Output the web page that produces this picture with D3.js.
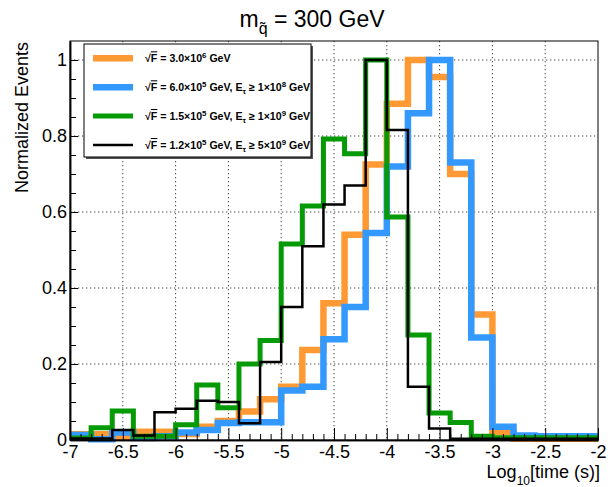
<!DOCTYPE html>
<html>
<head>
<meta charset="utf-8">
<script src="https://cdn.jsdelivr.net/npm/d3@7"></script>
<style>
  html, body { margin: 0; padding: 0; background: #fff; }
  svg { display: block; }
  text { font-family: "Liberation Sans", Arial, Helvetica, sans-serif; }
</style>
</head>
<body>
<svg id="chart" width="610" height="487"></svg>
<script>
// ---- data ----
const binEdges = [-7.0, -6.8, -6.6, -6.4, -6.2, -6.0, -5.8, -5.6, -5.4, -5.2, -5.0,
                  -4.8, -4.6, -4.4, -4.2, -4.0, -3.8, -3.6, -3.4, -3.2, -3.0,
                  -2.8, -2.6, -2.4, -2.2, -2.0];

const orangeValues = [0.015, 0.015, 0.008, 0.022, 0.022, 0.016, 0.035, 0.05, 0.075, 0.107,
                      0.14, 0.237, 0.36, 0.54, 0.725, 0.885, 1.0, 0.955, 0.70, 0.33,
                      0.02, 0.004, 0.003, 0.003, 0.003];
const blueValues   = [0.013, 0.002, 0.02, 0.005, 0.01, 0.02, 0.026, 0.045, 0.047, 0.047,
                      0.13, 0.14, 0.265, 0.35, 0.545, 0.72, 0.86, 1.0, 0.73, 0.27,
                      0.035, 0.012, 0.01, 0.01, 0.01];
const greenValues  = [0.005, 0.032, 0.076, 0.01, 0.01, 0.04, 0.145, 0.085, 0.2, 0.262,
                      0.516, 0.616, 0.792, 0.753, 1.0, 0.587, 0.276, 0.071, 0.046, 0.01,
                      0.006, 0.006, 0.006, 0.006, 0.006];
const blackValues  = [0.004, 0.004, 0.026, 0.012, 0.073, 0.082, 0.103, 0.1, 0.044, 0.205,
                      0.35, 0.51, 0.62, 0.67, 1.0, 0.816, 0.14, 0.03, 0.003, 0.003,
                      0.003, 0.003, 0.003, 0.003, 0.003];

const xMajorTicks = [-7, -6.5, -6, -5.5, -5, -4.5, -4, -3.5, -3, -2.5, -2];
const xTickLabels = ["-7", "-6.5", "-6", "-5.5", "-5", "-4.5", "-4", "-3.5", "-3", "-2.5", "-2"];
const yMajorTicks = [0, 0.2, 0.4, 0.6, 0.8, 1.0];
const yTickLabels = ["0", "0.2", "0.4", "0.6", "0.8", "1"];

const legendF    = ["3.0", "6.0", "1.5", "1.2"];
const legendFexp = ["6", "5", "5", "5"];
const legendEcoef = [null, "1", "1", "5"];
const legendEexp  = [null, "8", "9", "9"];

// ---- layout ----
const svg = d3.select("#chart");
const L = 70, R = 598, T = 41, B = 440;
const x = d3.scaleLinear().domain([-7, -2]).range([L, R]);
const y = d3.scaleLinear().domain([0, 1.05]).range([B, T]);

const series = [
  { values: orangeValues, color: "#ff9933", width: 6.5 },
  { values: blueValues,   color: "#3399ff", width: 6.5 },
  { values: greenValues,  color: "#079a07", width: 5 },
  { values: blackValues,  color: "#000000", width: 2.5 }
];

// grid
const grid = svg.append("g");
xMajorTicks.slice(1, -1).forEach(v => {
  grid.append("line").attr("x1", x(v)).attr("x2", x(v)).attr("y1", T).attr("y2", B)
    .attr("stroke", "#444").attr("stroke-width", 1).attr("stroke-dasharray", "1.3,2.7");
});
yMajorTicks.slice(1).forEach(v => {
  grid.append("line").attr("x1", L).attr("x2", R).attr("y1", y(v)).attr("y2", y(v))
    .attr("stroke", "#444").attr("stroke-width", 1).attr("stroke-dasharray", "1.3,2.7");
});

// clip
svg.append("clipPath").attr("id", "plotclip").append("rect")
  .attr("x", L).attr("y", T - 5).attr("width", R - L).attr("height", B - T + 9);

const line = d3.line().x(d => x(d[0])).y(d => y(d[1]));
const hg = svg.append("g").attr("clip-path", "url(#plotclip)");
series.forEach(s => {
  const pts = [[binEdges[0], 0]];
  s.values.forEach((v, i) => { pts.push([binEdges[i], v]); pts.push([binEdges[i + 1], v]); });
  pts.push([binEdges[binEdges.length - 1], 0]);
  hg.append("path").attr("d", line(pts)).attr("fill", "none")
    .attr("stroke", s.color).attr("stroke-width", s.width)
    .attr("stroke-linejoin", "miter").attr("stroke-linecap", "butt");
});

// frame
svg.append("rect").attr("x", L).attr("y", T).attr("width", R - L).attr("height", B - T)
  .attr("fill", "none").attr("stroke", "#000").attr("stroke-width", 1);

// axes
const xMinor = d3.range(0, 51).map(i => -7 + i * 0.1).filter(v => !xMajorTicks.some(m => Math.abs(m - v) < 1e-6));
const xAxisMinor = d3.axisBottom(x).tickValues(xMinor).tickFormat("").tickSizeInner(-6).tickSizeOuter(0);
const xAxis = d3.axisBottom(x).tickValues(xMajorTicks)
  .tickFormat((d, i) => xTickLabels[i]).tickSizeInner(-12).tickSizeOuter(0).tickPadding(5);
const gxm = svg.append("g").attr("transform", `translate(0,${B})`).call(xAxisMinor);
const gx = svg.append("g").attr("transform", `translate(0,${B})`).call(xAxis);
[gx, gxm].forEach(g => {
  g.select(".domain").attr("stroke", "#000").attr("stroke-width", 1.5);
  g.selectAll(".tick line").attr("stroke", "#000");
});
gx.selectAll("text").attr("font-size", 18).attr("fill", "#000")
  .attr("font-family", "'Liberation Sans', Arial, sans-serif");

const yMinor = d3.range(0, 21).map(i => i * 0.05).filter(v => !yMajorTicks.some(m => Math.abs(m - v) < 1e-6));
const yAxisMinor = d3.axisLeft(y).tickValues(yMinor).tickFormat("").tickSizeInner(-6).tickSizeOuter(0);
const yAxis = d3.axisLeft(y).tickValues(yMajorTicks)
  .tickFormat((d, i) => yTickLabels[i]).tickSizeInner(-8).tickSizeOuter(0).tickPadding(3);
const gym = svg.append("g").attr("transform", `translate(${L},0)`).call(yAxisMinor);
const gy = svg.append("g").attr("transform", `translate(${L},0)`).call(yAxis);
[gy, gym].forEach(g => {
  g.select(".domain").attr("stroke", "#000").attr("stroke-width", 1.5);
  g.selectAll(".tick line").attr("stroke", "#000");
});
gy.selectAll("text").attr("font-size", 18).attr("fill", "#000")
  .attr("font-family", "'Liberation Sans', Arial, sans-serif");

// axis titles
svg.append("text").attr("transform", "translate(28,42) rotate(-90)")
  .attr("text-anchor", "end").attr("font-size", 18).text("Normalized Events");

const xt = svg.append("text").attr("x", 600).attr("y", 478).attr("text-anchor", "end").attr("font-size", 18);
xt.append("tspan").text("Log");
xt.append("tspan").attr("font-size", 12).attr("dy", 7).text("10");
xt.append("tspan").attr("dy", -7).text("[time (s)]");

// title
const tt = svg.append("text").attr("x", 312).attr("y", 27).attr("text-anchor", "middle").attr("font-size", 23);
tt.append("tspan").text("m");
tt.append("tspan").attr("font-size", 16).attr("dy", 7).text("q\u0303");
tt.append("tspan").attr("dy", -7).text(" = 300 GeV");

// legend
const LX = 84, LY = 44, LW = 227, LH = 113;
svg.append("rect").attr("x", LX + 2).attr("y", LY + 2).attr("width", LW).attr("height", LH).attr("fill", "#555");
svg.append("rect").attr("x", LX).attr("y", LY).attr("width", LW).attr("height", LH)
  .attr("fill", "#fff").attr("stroke", "#000").attr("stroke-width", 1);
const rowY = [58.3, 87.3, 116, 145];
series.forEach((s, i) => {
  svg.append("line").attr("x1", 93).attr("x2", 133).attr("y1", rowY[i]).attr("y2", rowY[i])
    .attr("stroke", s.color).attr("stroke-width", s.width);
  const t = svg.append("text").attr("x", 145).attr("y", rowY[i] + 4)
    .attr("font-size", 10.6).attr("font-weight", "bold").attr("fill", "#000");
  t.append("tspan").text("\u221A");
  t.append("tspan").attr("text-decoration", "overline").style("text-decoration", "overline").text("F");
  t.append("tspan").text(" = " + legendF[i] + "\u00D710");
  t.append("tspan").attr("font-size", 7.8).attr("dy", -4).text(legendFexp[i]);
  if (legendEcoef[i] === null) {
    t.append("tspan").attr("dy", 4).text(" GeV");
  } else {
    t.append("tspan").attr("dy", 4).text(" GeV, E");
    t.append("tspan").attr("font-size", 7.8).attr("dy", 2.5).text("\u03C4");
    t.append("tspan").attr("dy", -2.5).text(" \u2265 " + legendEcoef[i] + "\u00D710");
    t.append("tspan").attr("font-size", 7.8).attr("dy", -4).text(legendEexp[i]);
    t.append("tspan").attr("dy", 4).text(" GeV");
  }
});
</script>
</body>
</html>
